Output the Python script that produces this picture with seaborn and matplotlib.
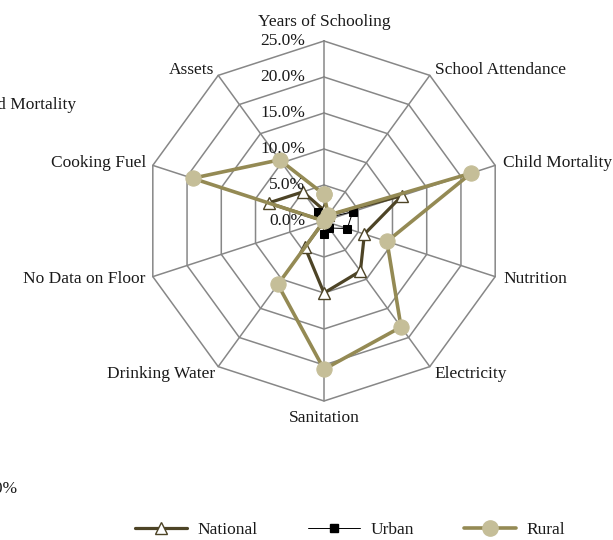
import numpy as np
import pandas as pd
import matplotlib
matplotlib.use("Agg")
import matplotlib.pyplot as plt
import seaborn as sns
from matplotlib.lines import Line2D

categories = ["Years of Schooling", "School Attendance", "Child Mortality", "Nutrition",
              "Electricity", "Sanitation", "Drinking Water", "No Data on Floor",
              "Cooking Fuel", "Assets"]
national = [1.5, 1.0, 11.4, 5.9, 8.6, 10.0, 4.5, 0.0, 8.1, 5.0]
urban = [1.0, 0.5, 4.2, 3.4, 1.2, 1.8, 0.3, 0.0, 0.3, 1.5]
rural = [3.7, 1.0, 21.5, 9.2, 18.2, 20.6, 10.9, 0.0, 19.2, 10.5]
rticks = [0, 5, 10, 15, 20, 25]
rtick_labels = ["0.0%", "5.0%", "10.0%", "15.0%", "20.0%", "25.0%"]

sns.set_style("white")
plt.rcParams["font.family"] = ["Liberation Serif", "DejaVu Serif"]

W, H = 613, 540
fig = plt.figure(figsize=(W / 100, H / 100), dpi=100)
cx, cy, R = 324, 221, 180
ax = fig.add_axes([(cx - R) / W, (H - cy - R) / H, 2 * R / W, 2 * R / H], projection="polar")
ax.set_theta_zero_location("N")
ax.set_theta_direction(-1)
ax.set_ylim(0, 25)
ax.grid(False)
ax.spines["polar"].set_visible(False)
ax.set_xticks([])
ax.set_yticks([])
ax.patch.set_alpha(0)

n = len(categories)
theta = np.linspace(0, 2 * np.pi, n, endpoint=False)
theta_c = np.append(theta, theta[0])

gridc = "#878787"
for r in rticks[1:]:
    ax.plot(theta_c, [r] * (n + 1), color=gridc, lw=1.1, zorder=1, clip_on=False)
for t in theta:
    ax.plot([t, t], [0, 25], color=gridc, lw=1.1, zorder=1, clip_on=False)

def close(v):
    return np.append(np.array(v, dtype=float), v[0])

nat_c = "#4D4426"
rur_line = "#948A54"
rur_mark = "#C5BE98"

df_n = pd.DataFrame({"theta": theta_c, "value": close(national)})
df_u = pd.DataFrame({"theta": theta_c, "value": close(urban)})
df_r = pd.DataFrame({"theta": theta_c, "value": close(rural)})

sns.lineplot(data=df_n, x="theta", y="value", ax=ax, sort=False, estimator=None,
             color=nat_c, lw=2.3, marker="^", markersize=9, markerfacecolor="white",
             markeredgecolor=nat_c, markeredgewidth=1.0, zorder=3, clip_on=False)
sns.lineplot(data=df_u, x="theta", y="value", ax=ax, sort=False, estimator=None,
             color="black", lw=0.7, marker="s", markersize=6, markerfacecolor="black",
             markeredgecolor="black", zorder=4, clip_on=False)
sns.lineplot(data=df_r, x="theta", y="value", ax=ax, sort=False, estimator=None,
             color=rur_line, lw=2.6, marker="o", markersize=11, markerfacecolor=rur_mark,
             markeredgecolor=rur_mark, zorder=5, clip_on=False)
ax.set_xlabel("")
ax.set_ylabel("")
ax.set_ylim(0, 25)

fs = 12.5
tcol = "#1a1a1a"
# radial tick labels
for r, lab in zip(rticks, rtick_labels):
    ax.annotate(lab, xy=(0, r), xytext=(-19, 0), textcoords="offset pixels",
                ha="right", va="center", fontsize=fs, color=tcol, zorder=6)

# category labels: (dx, dy, ha, va) in pixels
offs = [(0, 19, "center", "center"), (5, 5, "left", "center"), (8, 2, "left", "center"),
        (8, -2, "left", "center"), (5, -7, "left", "center"), (0, -17, "center", "center"),
        (-3, -7, "right", "center"), (-7, -2, "right", "center"), (-7, 2, "right", "center"),
        (-4, 5, "right", "center")]
for t, lab, (dx, dy, ha, va) in zip(theta, categories, offs):
    ax.annotate(lab, xy=(t, 25), xytext=(dx, dy), textcoords="offset pixels",
                ha=ha, va=va, fontsize=fs, color=tcol, annotation_clip=False)

# clipped stray texts at the left edge (as in the reference)
fig.text(76 / W, 1 - 105 / H, "Child Mortality", ha="right", va="center", fontsize=fs, color=tcol)
fig.text(18 / W, 1 - 489 / H, "0.0%", ha="right", va="center", fontsize=fs, color=tcol)

handles = [
    Line2D([], [], color=nat_c, lw=2.3, marker="^", markersize=9, markerfacecolor="white",
           markeredgecolor=nat_c),
    Line2D([], [], color="black", lw=0.7, marker="s", markersize=6, markerfacecolor="black"),
    Line2D([], [], color=rur_line, lw=2.6, marker="o", markersize=11, markerfacecolor=rur_mark,
           markeredgecolor=rur_mark),
]
fig.legend(handles, ["National", "Urban", "Rural"], loc="center", bbox_to_anchor=(350 / W, 1 - 530 / H),
           ncol=3, frameon=False, fontsize=fs, handlelength=3.0, handletextpad=0.6,
           columnspacing=2.9, labelcolor=tcol)

fig.savefig("out.png", dpi=100, facecolor="white")
